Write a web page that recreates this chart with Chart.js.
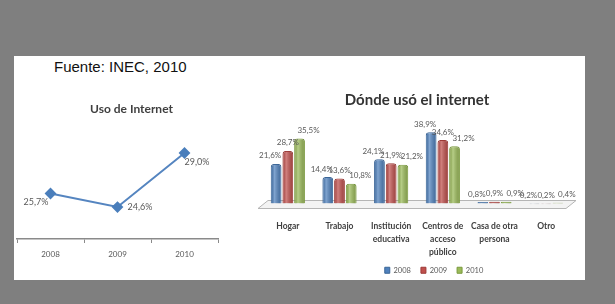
<!DOCTYPE html>
<html><head><meta charset="utf-8">
<script src="https://cdn.jsdelivr.net/npm/chart.js@4.4.0/dist/chart.umd.min.js"></script>
<style>
html,body{margin:0;padding:0;width:615px;height:304px;overflow:hidden;background:#7f7f7f;}
#panel{position:absolute;left:14px;top:56px;width:571px;height:224px;background:#fff;}
#fuente{position:absolute;left:54px;top:59px;font:15px "Liberation Sans",Arial,sans-serif;line-height:16px;color:#111;}
#c1{position:absolute;left:0;top:94px;}
#c2{position:absolute;left:250px;top:83px;}
</style></head><body>
<div id="panel"></div>
<div id="fuente">Fuente: INEC, 2010</div>
<canvas id="c1" width="251" height="175"></canvas>
<canvas id="c2" width="360" height="201"></canvas>
<script>
// ---- data ----
const useYears = ['2008', '2009', '2010'];
const useValues = [25.7, 24.6, 29.0];
const placeCategories = [['Hogar'], ['Trabajo'], ['Institución', 'educativa'], ['Centros de', 'acceso', 'público'], ['Casa de otra', 'persona'], ['Otro']];
const seriesNames = ['2008', '2009', '2010'];
const values2008 = [21.6, 14.4, 24.1, 38.9, 0.8, 0.2];
const values2009 = [28.7, 13.6, 21.9, 34.6, 0.9, 0.2];
const values2010 = [35.5, 10.8, 21.2, 31.2, 0.9, 0.4];

// ---- styles ----
const fmt = v => v.toFixed(1).replace('.', ',') + '%';
const lineLabelStyle = [{dx: -2, dy: 9, align: 'right'}, {dx: 10, dy: 0, align: 'left'}, {dx: 0, dy: 9, align: 'left'}];
const barColors = ['#4f81bd', '#c0504d', '#9bbb59'];
const barBorders = ['#3a6597', '#9c3a37', '#7a9a3e'];
const barLabelDx = [-6, 0, 9];

const lineLabels = {
  id: 'lineLabels',
  afterDatasetsDraw(chart) {
    const ctx = chart.ctx;
    const meta = chart.getDatasetMeta(0);
    ctx.save();
    ctx.font = '9px Lato';
    ctx.fillStyle = '#595959';
    ctx.textBaseline = 'middle';
    meta.data.forEach((pt, i) => {
      const s = lineLabelStyle[i];
      ctx.textAlign = s.align;
      ctx.fillText(fmt(chart.data.datasets[0].data[i]), pt.x + s.dx, pt.y + s.dy);
    });
    ctx.restore();
  }
};

const bar3d = {
  id: 'bar3d',
  beforeDatasetsDraw(chart) {
    const {ctx, chartArea: a} = chart;
    const z = chart.scales.y.getPixelForValue(0);
    ctx.save();
    ctx.beginPath();
    ctx.moveTo(a.left - 4, z + 5);
    ctx.lineTo(a.left + 6, z - 3);
    ctx.lineTo(a.right + 4, z - 3);
    ctx.lineTo(a.right - 6, z + 5);
    ctx.closePath();
    ctx.fillStyle = '#f3f3f3';
    ctx.fill();
    ctx.strokeStyle = '#b5b5b5';
    ctx.lineWidth = 1;
    ctx.stroke();
    ctx.restore();
  },
  afterDatasetsDraw(chart) {
    const ctx = chart.ctx;
    ctx.save();
    chart.data.datasets.forEach((ds, di) => {
      const meta = chart.getDatasetMeta(di);
      meta.data.forEach((bar, i) => {
        const w = bar.width, x0 = bar.x - w / 2;
        const h = bar.base - bar.y;
        const g = ctx.createLinearGradient(x0, 0, x0 + w, 0);
        g.addColorStop(0, 'rgba(0,0,0,0.12)');
        g.addColorStop(0.35, 'rgba(255,255,255,0.28)');
        g.addColorStop(1, 'rgba(0,0,0,0.18)');
        ctx.fillStyle = g;
        if (h > 0) ctx.fillRect(x0 + 1, bar.y + 1, w - 2, h - 1);
      });
    });
    ctx.font = '8px Lato';
    ctx.fillStyle = '#595959';
    ctx.textAlign = 'center';
    ctx.textBaseline = 'middle';
    chart.data.datasets.forEach((ds, di) => {
      const meta = chart.getDatasetMeta(di);
      meta.data.forEach((bar, i) => {
        ctx.fillText(fmt(ds.data[i]), bar.x + barLabelDx[di], bar.y - 8);
      });
    });
    ctx.restore();
  }
};

new Chart(document.getElementById('c1'), {
  type: 'line',
  data: {
    labels: useYears,
    datasets: [{
      data: useValues,
      borderColor: '#5585c0',
      backgroundColor: '#4a7ebb',
      borderWidth: 2,
      pointStyle: 'rectRot',
      pointRadius: 4.5,
      pointBackgroundColor: '#4a7ebb',
      pointBorderColor: '#4a7ebb',
      tension: 0
    }]
  },
  options: {
    responsive: false,
    animation: false,
    layout: {padding: {left: 17, right: 5, top: 0, bottom: 0}},
    plugins: {
      legend: {display: false},
      tooltip: {enabled: false},
      title: {display: true, text: 'Uso de Internet', font: {family: 'Lato', size: 12, weight: 'bold'}, color: '#404040', padding: {top: 8, bottom: 12}}
    },
    scales: {
      x: {
        offset: true,
        grid: {display: true, offset: true, drawOnChartArea: false, tickLength: 4, color: '#8a8a8a', lineWidth: 1},
        border: {display: true, color: '#8a8a8a', width: 1.5},
        ticks: {font: {family: 'Lato', size: 8}, color: '#595959', padding: 7},
        afterFit: s => { s.height = 30; }
      },
      y: {
        position: 'right', min: 22, max: 31,
        grid: {display: false}, border: {display: false}, ticks: {display: false},
        afterFit: s => { s.width = 28; }
      }
    }
  },
  plugins: [lineLabels]
});

new Chart(document.getElementById('c2'), {
  type: 'bar',
  data: {
    labels: placeCategories,
    datasets: [values2008, values2009, values2010].map((vals, i) => ({
      label: seriesNames[i],
      data: vals,
      backgroundColor: barColors[i],
      borderColor: barBorders[i],
      borderWidth: 1,
      borderSkipped: 'bottom',
      borderRadius: {topLeft: 3, topRight: 3},
      categoryPercentage: 0.68,
      barPercentage: 0.92
    }))
  },
  options: {
    responsive: false,
    animation: false,
    layout: {padding: {left: 12, right: 4, top: 0, bottom: 0}},
    plugins: {
      tooltip: {enabled: false},
      title: {display: true, fullSize: false, text: 'Dónde usó el internet', font: {family: 'Lato', size: 15, weight: 'bold'}, color: '#333333', padding: {top: 8, bottom: 12}},
      legend: {position: 'bottom', labels: {boxWidth: 5, boxHeight: 6, font: {family: 'Lato', size: 7.5}, color: '#595959', padding: 10}}
    },
    scales: {
      x: {
        grid: {display: false, drawTicks: false},
        border: {display: false},
        ticks: {font: {family: 'Lato', size: 8.5, weight: 'bold', lineHeight: 1.53}, color: '#404040', padding: 16, maxRotation: 0, autoSkip: false},
        afterFit: s => { s.height = 53; }
      },
      y: {
        position: 'right', min: 0, max: 45,
        grid: {display: false}, border: {display: false}, ticks: {display: false},
        afterFit: s => { s.width = 34; }
      }
    }
  },
  plugins: [bar3d]
});
</script>
</body></html>
